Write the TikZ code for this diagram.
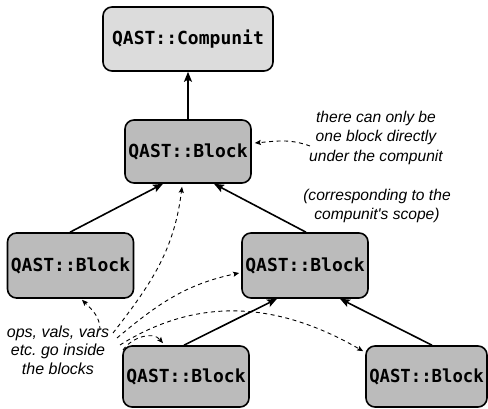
\documentclass[tikz,border=0pt]{standalone}
\usepackage{fontspec}
\setmainfont{Liberation Sans}
\setmonofont{DejaVu Sans Mono}
\usetikzlibrary{arrows.meta}
\definecolor{cufill}{RGB}{220,220,220}
\definecolor{blkfill}{RGB}{187,187,187}
\frenchspacing
\begin{document}
\begin{tikzpicture}[x=1pt,y=1pt,
  box/.style={draw=black, line width=1.6pt, rounded corners=9pt, inner sep=0pt,
    font=\fontsize{18}{20}\selectfont\ttfamily\bfseries},
  cubox/.style={box, fill=cufill, minimum width=170pt, minimum height=64pt},
  blk/.style={box, fill=blkfill, minimum width=126pt, minimum height=63pt},
  solidarr/.style={line width=1.6pt, -{Stealth[length=10pt,width=8pt,inset=2pt]}},
  dasharr/.style={dash pattern=on 4pt off 3.5pt, line width=0.9pt,
    -{Stealth[length=6pt,width=5pt,inset=1pt]}},
  note/.style={align=center, inner sep=0pt,
    font=\fontsize{15.6}{19.5}\selectfont\itshape}
]
\useasboundingbox (0,0) rectangle (488,409);

\node[cubox] (cu) at (188,370) {QAST::Compunit};
\node[blk] (b1) at (188,257.5) {QAST::Block};
\node[blk, minimum height=65pt] (bl) at (70.5,143.5) {QAST::Block};
\node[blk, minimum height=65pt] (br) at (305,143.5) {QAST::Block};
\node[blk, minimum height=61pt] (bbl) at (186,32.5) {QAST::Block};
\node[blk, minimum height=61pt, minimum width=121pt] (bbr) at (426.5,32.5) {\scalebox{0.96}[1]{QAST::Block}};

\node[note] (n1) at (376,271.5) {there can only be\\one block directly\\under the compunit};
\node[note] (n2) at (377,203) {(corresponding to the\\compunit\textquotesingle s scope)};
\node[note, font=\fontsize{16}{18.5}\selectfont\itshape] (ops) at (58,59) {ops, vals, vars\\etc. go inside\\the blocks};

% solid arrows
\draw[solidarr] (b1.north) -- (cu.south);
\draw[solidarr] ([xshift=-0.5pt]bl.north) -- ([xshift=-25pt]b1.south);
\draw[solidarr] ([xshift=1pt]br.north) -- ([xshift=26pt]b1.south);
\draw[solidarr] ([xshift=-2pt]bbl.north) -- ([xshift=-28pt]br.south);
\draw[solidarr] ([xshift=5.5pt]bbr.north) -- ([xshift=35pt]br.south);

% dashed annotation arrows
\coordinate (s1) at (310,263);
\draw[dasharr] (s1) to[out=160,in=5] ([xshift=3pt,yshift=8.5pt]b1.east);

\coordinate (oE) at (100,79);
\coordinate (oA) at (113,76);
\coordinate (oB) at (117,71);
\coordinate (oC) at (120,64);
\coordinate (oD) at (123,59);
\draw[dasharr] (oE) to[out=90,in=-45] ([xshift=11.5pt,yshift=-1pt]bl.south);
\draw[dasharr] (oA) to[out=52,in=-97] ([xshift=-6pt,yshift=-3pt]b1.south);
\draw[dasharr] (oB) to[out=40,in=192] ([xshift=-2pt,yshift=-7.5pt]br.west);
\draw[dasharr] (oC) to[out=32,in=150] ([xshift=-2pt,yshift=-6pt]bbr.north west);
\draw[dasharr] (oD) to[out=55,in=130] ([xshift=-23pt,yshift=2pt]bbl.north);
\end{tikzpicture}
\end{document}
